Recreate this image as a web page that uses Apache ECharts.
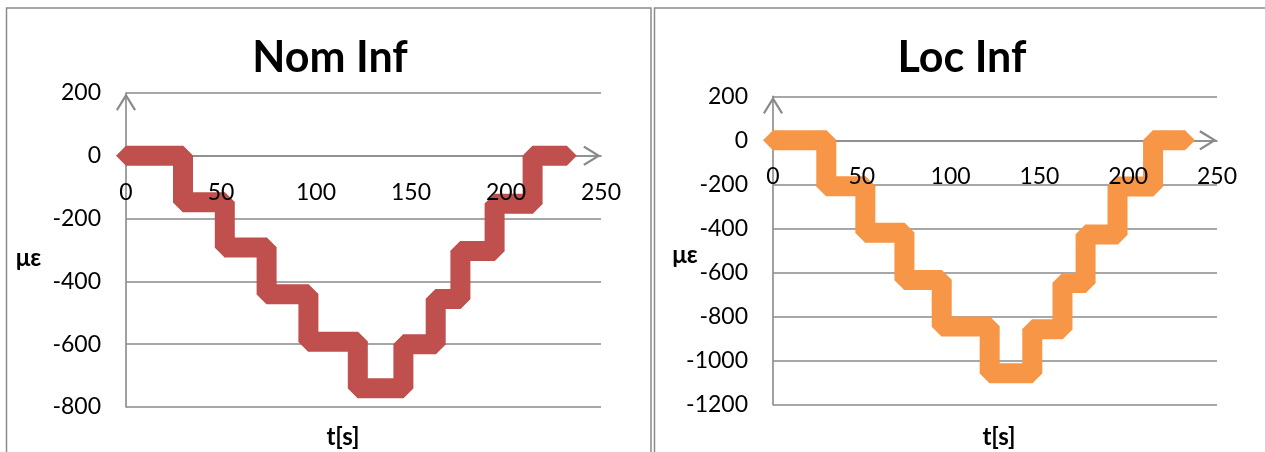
<!DOCTYPE html>
<html>
<head>
<meta charset="utf-8">
<script src="https://cdn.jsdelivr.net/npm/echarts@6/dist/echarts.min.js"></script>
<style>
  html, body { margin: 0; padding: 0; background: #ffffff; }
  #chart { width: 1265px; height: 452px; }
</style>
</head>
<body>
<div id="chart"></div>
<script>
// Time axis ticks (s)
const timeTicks = [0, 50, 100, 150, 200, 250];

// Nom Inf: staircase vertices (time in s, strain in µε)
const nomTime   = [0, 30, 30, 52, 52, 74, 74, 96, 96, 122, 122, 146, 146, 163, 163, 176, 176, 194, 194, 214, 214, 232];
const nomStrain = [0, 0, -148, -148, -292, -292, -441, -441, -592, -592, -740, -740, -600, -600, -456, -456, -303, -303, -153, -153, 0, 0];
const nomTicks  = [-800, -600, -400, -200, 0, 200];

// Loc Inf: staircase vertices (time in s, strain in µε)
const locTime   = [0, 30, 30, 52, 52, 74, 74, 95, 95, 122, 122, 146, 146, 163, 163, 176, 176, 194, 194, 214, 214, 232];
const locStrain = [0, 0, -208, -208, -419, -419, -634, -634, -845, -845, -1057, -1057, -858, -858, -647, -647, -427, -427, -210, -210, 0, 0];
const locTicks  = [-1200, -1000, -800, -600, -400, -200, 0, 200];

const FONT = 'Lato, "Open Sans", sans-serif';
const GRID_COLOR = '#8a8a8a';
// open chevron used as the axis arrow head (points up, rotated by the axis)
const CHEVRON = 'path://M10,0 L20,16.2 L18.2,17.6 L10,4.2 L1.8,17.6 L0,16.2 Z';

const grids = [
  { left: 126, top: 93, width: 475, height: 314 },
  { left: 773, top: 96.3, width: 444, height: 308.4 }
];

function pairs(ts, vs) { return ts.map((t, i) => [t, vs[i]]); }

// the time axis sits on the zero line of the strain axis
function zeroOffset(grid, ticks) {
  const lo = ticks[0], hi = ticks[ticks.length - 1];
  return -grid.height * (0 - lo) / (hi - lo);
}

// time axis: the line lies under the trace, the tick labels sit above it
function xAxisFor(gridIndex, ticks, labelsOnly) {
  return {
    type: 'value', gridIndex, position: 'bottom',
    offset: zeroOffset(grids[gridIndex], ticks),
    z: labelsOnly ? 5 : 0,
    min: timeTicks[0], max: timeTicks[timeTicks.length - 1], interval: timeTicks[1] - timeTicks[0],
    axisLine: { show: !labelsOnly, onZero: false, lineStyle: { color: GRID_COLOR, width: 1.6 },
                symbol: ['none', CHEVRON], symbolSize: [20, 18], symbolOffset: [0, -9] },
    axisTick: { show: false },
    splitLine: { show: false },
    axisLabel: { show: labelsOnly, color: '#000', fontFamily: FONT, fontSize: 23, margin: 25 }
  };
}
function yAxisFor(gridIndex, ticks) {
  return {
    type: 'value', gridIndex,
    min: ticks[0], max: ticks[ticks.length - 1], interval: ticks[1] - ticks[0],
    axisLine: { show: true, onZero: false, lineStyle: { color: GRID_COLOR, width: 1.6 },
                symbol: ['none', CHEVRON], symbolSize: [20, 18], symbolOffset: [0, -9] },
    axisTick: { show: false },
    splitLine: { show: true, lineStyle: { color: GRID_COLOR, width: 1.6 } },
    axisLabel: { color: '#000', fontFamily: FONT, fontSize: 23, margin: 25, formatter: v => String(v) }
  };
}
function stepSeries(idx, ts, vs, color) {
  return {
    type: 'line', xAxisIndex: idx, yAxisIndex: idx,
    data: pairs(ts, vs),
    clip: false, z: 3,
    symbol: 'diamond', symbolSize: 20, showSymbol: true,
    itemStyle: { color },
    lineStyle: { color, width: 20, join: 'bevel', cap: 'butt' },
    animation: false, silent: true
  };
}

const chart = echarts.init(document.getElementById('chart'), null, { renderer: 'canvas' });
chart.setOption({
  backgroundColor: '#ffffff',
  animation: false,
  grid: grids,
  xAxis: [
    xAxisFor(0, nomTicks, false), xAxisFor(1, locTicks, false),
    xAxisFor(0, nomTicks, true), xAxisFor(1, locTicks, true)
  ],
  yAxis: [yAxisFor(0, nomTicks), yAxisFor(1, locTicks)],
  series: [
    stepSeries(0, nomTime, nomStrain, '#C0504D'),
    stepSeries(1, locTime, locStrain, '#F79646')
  ],
  graphic: [
    // panel frames
    { type: 'rect', shape: { x: 6.5, y: 8, width: 644.5, height: 470 },
      style: { fill: 'none', stroke: '#8a8a8a', lineWidth: 1.5 }, silent: true },
    { type: 'rect', shape: { x: 654.5, y: 8, width: 640, height: 470 },
      style: { fill: 'none', stroke: '#8a8a8a', lineWidth: 1.5 }, silent: true },
    // titles
    { type: 'text', x: 330, y: 58, style: { text: 'Nom Inf', font: 'bold 43px ' + FONT, fill: '#000', align: 'center', verticalAlign: 'middle' } },
    { type: 'text', x: 962, y: 58, style: { text: 'Loc Inf', font: 'bold 43px ' + FONT, fill: '#000', align: 'center', verticalAlign: 'middle' } },
    // axis names
    { type: 'text', x: 28.5, y: 258, style: { text: 'με', font: 'bold 24px ' + FONT, fill: '#000', align: 'center', verticalAlign: 'middle' } },
    { type: 'text', x: 685, y: 255, style: { text: 'με', font: 'bold 24px ' + FONT, fill: '#000', align: 'center', verticalAlign: 'middle' } },
    { type: 'text', x: 343, y: 437, style: { text: 't[s]', font: 'bold 24px ' + FONT, fill: '#000', align: 'center', verticalAlign: 'middle' } },
    { type: 'text', x: 999, y: 437, style: { text: 't[s]', font: 'bold 24px ' + FONT, fill: '#000', align: 'center', verticalAlign: 'middle' } }
  ]
});
</script>
</body>
</html>
